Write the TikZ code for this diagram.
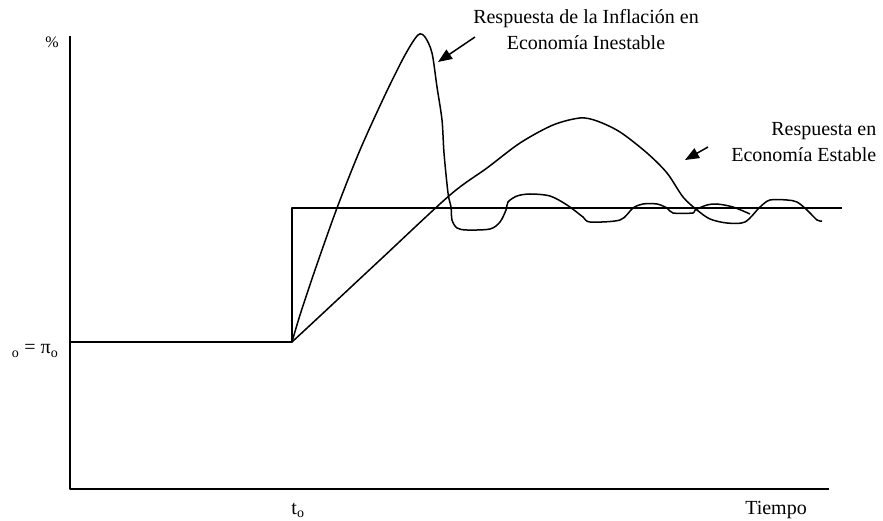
\documentclass[tikz,border=0pt]{standalone}
\usepackage{fontspec}
\setmainfont{Liberation Serif}
\usetikzlibrary{arrows.meta}

\begin{document}
\begin{tikzpicture}[x=1pt, y=-1pt, line width=1.5pt, line join=round,
    lbl/.style={font=\fontsize{20}{26}\selectfont, inner sep=0pt},
    small/.style={font=\fontsize{16}{16}\selectfont, inner sep=0pt},
    tip/.style={-{Triangle[length=14pt,width=11pt]}}]
    \useasboundingbox (0,0) rectangle (883,521);

    \coordinate (top) at (70,36);
    \coordinate (O) at (70,489);
    \coordinate (end) at (829,489);
    \coordinate (pi0) at (70,342);
    \coordinate (t0) at (292,342);
    \coordinate (t1) at (292,208);
    \coordinate (pie) at (842,208);

    \node (pct) [small] at (52,42) {\%};
    \node (pilbl) [lbl, anchor=east] at (59,351) {\textsubscript{o} = π\textsubscript{o}};
    \node (tlbl) [lbl] at (298,510) {t\textsubscript{o}};
    \node (time) [lbl] at (776,510) {Tiempo};
    \node (unst) [lbl, align=center, anchor=base] at (586,50) {Respuesta de la Inflaci\'on en\\Econom\'ia Inestable};
    \node (stab) [lbl, align=right, anchor=base east] at (877,162) {Respuesta en\\Econom\'ia Estable};

    \coordinate (ua) at (475,37);
    \coordinate (ub) at (438,62);
    \coordinate (sa) at (708,147);
    \coordinate (sb) at (685,160);

    \draw (top) -- (O) -- (end);
    \draw (pi0) -- (t0) -- (t1) -- (pie);

    \draw plot[smooth, tension=0.5] coordinates {(292,342) (300,315) (315,270)
        (337,208) (360,150) (385,95) (405,55) (418,35) (425,37)
        (432,53) (437,87) (442,120) (444,153) (448,193) (451,207) (452,220)
        (457,228) (467,230) (490,229) (500,222) (506,210) (508,202) (517,196)
        (530,194) (550,196) (567,205) (583,217) (590,222) (620,220) (633,208)
        (643,204) (657,204) (667,208) (673,213) (693,213) (695,210) (707,205)
        (717,204) (733,207) (750,214)};
    \draw plot[smooth, tension=0.5] coordinates {(292,342) (320,316) (380,260)
        (450,195) (487,168) (520,143) (553,125) (580,118) (597,121) (620,132)
        (647,153) (667,173) (683,197) (697,210) (710,219) (727,223) (745,222)
        (760,207) (770,200) (787,200) (797,202) (807,210) (817,220) (822,221)};

    \draw[tip] (ua) -- (ub);
    \draw[tip] (sa) -- (sb);
\end{tikzpicture}
\end{document}
